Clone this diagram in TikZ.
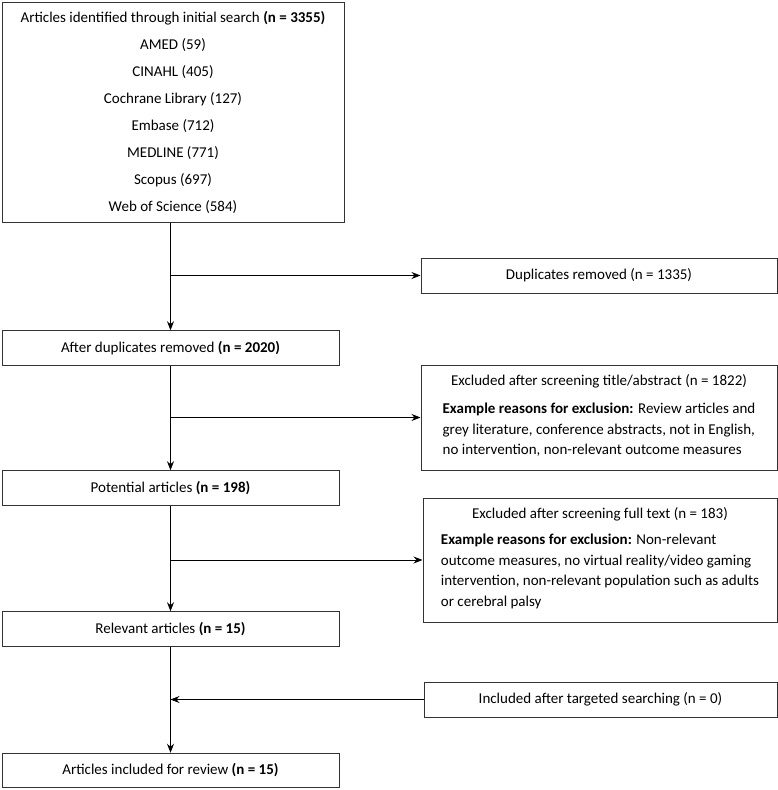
\documentclass[tikz,border=0pt]{standalone}
\usepackage{fontspec}
\setmainfont{Carlito}
\usetikzlibrary{positioning,arrows.meta}

\begin{document}
\begin{tikzpicture}[x=1pt,y=-1pt,
  box/.style={draw=black!80,line width=1pt,minimum height=34.5pt,inner sep=3pt,font=\fontsize{15}{20.5}\selectfont},
  side/.style={box,align=center},
  flow/.style={-{Stealth[length=9pt,width=7pt,inset=3pt]},line width=0.8pt}]
  \useasboundingbox (0,0) rectangle (778,790);
  \node[box,minimum width=342pt,minimum height=220pt,align=center,font=\fontsize{15}{27}\selectfont] (search) at (173,112)
    {Articles identified through initial search \textbf{(n = 3355)}\\AMED (59)\\CINAHL (405)\\Cochrane Library (127)\\Embase (712)\\MEDLINE (771)\\Scopus (697)\\Web of Science (584)};
  \node[box,minimum width=337pt] (dedup) at (170.5,348) {After duplicates removed \textbf{(n = 2020)}};
  \node[box,minimum width=337pt] (potential) at (170.5,488) {Potential articles \textbf{(n = 198)}};
  \node[box,minimum width=337pt] (relevant) at (170.5,629) {Relevant articles \textbf{(n = 15)}};
  \node[box,minimum width=337pt] (review) at (170.5,770.5) {Articles included for review \textbf{(n = 15)}};

  \node[box,minimum width=356pt,minimum height=35pt] (dup) at (599,275.5) {Duplicates removed (n = 1335)};
  \node[side,minimum width=356pt,minimum height=105pt] (excl1) at (599,417.5)
    {Excluded after screening title/abstract (n = 1822)\\[8pt]
     \begin{tabular}[t]{@{}l@{}}\textbf{Example reasons for exclusion:} Review articles and\\grey literature, conference abstracts, not in English,\\no intervention, non-relevant outcome measures\end{tabular}};
  \node[side,minimum width=354pt,minimum height=124pt] (excl2) at (600,560)
    {Excluded after screening full text (n = 183)\\[6pt]
     \begin{tabular}[t]{@{}l@{}}\textbf{Example reasons for exclusion:} Non-relevant\\outcome measures, no virtual reality/video gaming\\intervention, non-relevant population such as adults\\or cerebral palsy\end{tabular}};
  \node[box,minimum width=353pt,minimum height=35pt] (incl) at (600.5,699.5) {Included after targeted searching (n = 0)};

  \coordinate (s1) at (dup.west -| dedup.north);
  \coordinate (s2) at (excl1.west -| dedup.north);
  \coordinate (s3) at (excl2.west -| dedup.north);

  \draw[flow] (search.south -| dedup.north) -- (dedup.north);
  \draw[flow] (dedup) -- (potential);
  \draw[flow] (potential) -- (relevant);
  \draw[flow] (relevant) -- (review);
  \draw[flow] (s1) -- (dup.west);
  \draw[flow] (s2) -- (excl1.west);
  \draw[flow] (s3) -- (excl2.west);
  \draw[flow] (incl.west) -- (incl.west -| relevant.south);
\end{tikzpicture}
\end{document}
